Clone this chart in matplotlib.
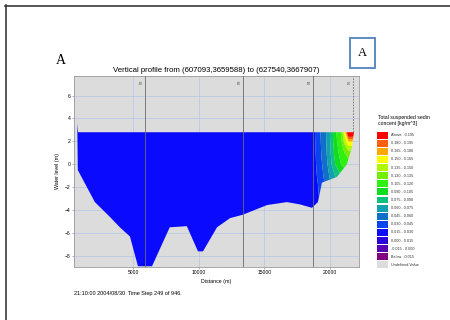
import matplotlib
matplotlib.use("Agg")
import matplotlib.pyplot as plt
from matplotlib.patches import Polygon, Rectangle
from matplotlib.lines import Line2D

plt.rcParams['font.family'] = ['Liberation Sans', 'DejaVu Sans']

# bed profile along the section (first point is the thin spike on the left bank)
bed_dist = [760, 800, 2100, 3250, 4000, 4770, 5380, 6450, 7800, 9100, 9950, 10330,
            11400, 12390, 13370, 15200, 16720, 17710, 18630, 19080, 19390, 19850,
            20530, 21290, 21670, 21830]
bed_level = [3.6, -0.5, -3.3, -4.6, -5.5, -6.3, -8.9, -8.9, -5.5, -5.4, -7.6, -7.6,
             -5.5, -4.7, -4.4, -3.56, -3.3, -3.5, -3.8, -3.3, -1.6, -1.4,
             -1.1, 0.0, 1.5, 2.8]
water_level = 2.8
surface_start = 820

# stations marked on the section
station_dist = [5920, 13370, 18700, 21750]
station_name = ['P2', 'P3', 'P4', 'P5']

# suspended sediment concentration (kg/m^3)
grid_dist = [0, 18800, 19200, 19600, 20000, 20400, 20800, 21100, 21400, 21700, 22500]
grid_level = [-9.5, -2, -1, 0, 1, 2, 3, 4]
tss = [
    [0.022, 0.022, 0.022, 0.022, 0.022, 0.022, 0.022, 0.022, 0.022, 0.022, 0.022],
    [0.022, 0.023, 0.032, 0.044, 0.056, 0.064, 0.070, 0.074, 0.076, 0.076, 0.076],
    [0.022, 0.024, 0.036, 0.048, 0.062, 0.076, 0.088, 0.094, 0.096, 0.096, 0.096],
    [0.022, 0.025, 0.039, 0.051, 0.068, 0.090, 0.104, 0.110, 0.112, 0.112, 0.112],
    [0.022, 0.026, 0.041, 0.053, 0.072, 0.096, 0.110, 0.120, 0.128, 0.126, 0.124],
    [0.022, 0.027, 0.042, 0.054, 0.074, 0.100, 0.114, 0.140, 0.165, 0.165, 0.155],
    [0.022, 0.028, 0.043, 0.055, 0.076, 0.102, 0.118, 0.160, 0.240, 0.240, 0.190],
    [0.022, 0.028, 0.043, 0.055, 0.076, 0.102, 0.118, 0.160, 0.240, 0.240, 0.190],
]

tss_levels = [-0.015, 0.0, 0.015, 0.030, 0.045, 0.060, 0.075, 0.090, 0.105,
              0.120, 0.135, 0.150, 0.165, 0.180, 0.195]
# below, intervals low->high, above
tss_colors = ['#800080', '#5a00b4', '#2a00dc', '#0a0aff', '#0a44ee', '#1070c8',
              '#10a0b0', '#10c080', '#10dc20', '#30f010', '#70f000', '#b0f800',
              '#ffff00', '#ffa800', '#ff6010', '#ff0000']
undefined_color = '#dcdcdc'

legend_labels = ['Above   0.195', '0.180 - 0.195', '0.165 - 0.180', '0.150 - 0.165',
                 '0.135 - 0.150', '0.120 - 0.135', '0.105 - 0.120', '0.090 - 0.105',
                 '0.075 - 0.090', '0.060 - 0.075', '0.045 - 0.060', '0.030 - 0.045',
                 '0.015 - 0.030', '0.000 - 0.015', '-0.015 - 0.000', 'Below  -0.015',
                 'Undefined Value']

W, H = 450, 320
fig = plt.figure(figsize=(W / 100, H / 100), dpi=100)
fig.patch.set_facecolor('white')

ax = fig.add_axes([74 / W, 1 - 266.7 / H, 285 / W, 190.7 / H])
ax.set_facecolor(undefined_color)
ax.set_xlim(510, 22210)
ax.set_ylim(-8.94, 7.71)
ax.set_xticks([5000, 10000, 15000, 20000])
ax.set_xticks(range(1000, 22001, 1000), minor=True)
ax.set_yticks([-8, -6, -4, -2, 0, 2, 4, 6])
ax.grid(color='#b4c6e4', lw=0.5)
ax.set_axisbelow(True)

cs = ax.contourf(grid_dist, grid_level, tss, levels=tss_levels, colors=tss_colors,
                 extend='both', zorder=2, antialiased=True)
outline = list(zip(bed_dist, bed_level)) + [(surface_start, water_level)]
section = Polygon(outline, closed=True, facecolor='none', edgecolor='none')
ax.add_patch(section)
cs.set_clip_path(section)

for d, name in zip(station_dist, station_name):
    if d == station_dist[-1]:
        ax.plot([d, d], [water_level, 7.71], color='#707070', lw=0.6,
                ls=(0, (2, 1.5)), zorder=3)
    else:
        ax.axvline(d, color='#6a6a6a', lw=0.6, zorder=3)
    ax.text(d - 120, 7.4, name, rotation=90, fontsize=2.6, color='#505050',
            ha='right', va='top', zorder=4)

ax.tick_params(labelsize=3.6, length=1.5, width=0.4, pad=1.2, color='#808080')
ax.tick_params(which='minor', length=1.0, width=0.3, color='#808080')
for s in ax.spines.values():
    s.set_color('#9a9a9a')
    s.set_linewidth(0.6)

fig.text(216.5 / W, 1 - 71 / H,
         'Vertical profile from (607093,3659588) to (627540,3667907)',
         fontsize=5.6, ha='center', va='center')
fig.text(216.5 / W, 1 - 282 / H, 'Distance (m)', fontsize=3.8, ha='center', va='center')
fig.text(57 / W, 1 - 171 / H, 'Water level (m)', fontsize=3.8, rotation=90,
         ha='center', va='center')
fig.text(74 / W, 1 - 294 / H, '21:10:00 2004/08/30  Time Step 249 of 946.',
         fontsize=4.0, ha='left', va='center')

# legend
lax = fig.add_axes([377 / W, 1 - 269 / H, 63 / W, 138 / H])
lax.set_xlim(0, 63)
lax.set_ylim(16.5, -0.5)
lax.axis('off')
legend_colors = tss_colors[::-1] + [undefined_color]
lax.barh(range(len(legend_labels)), [11] * len(legend_labels), left=0, height=0.85,
         color=legend_colors)
for i, lab in enumerate(legend_labels):
    lax.text(14, i, lab, fontsize=2.7, va='center', color='#303030')
fig.text(378 / W, 1 - 117 / H, 'Total suspended sedin', fontsize=3.7, va='center')
fig.text(378 / W, 1 - 124 / H, 'concent [kg/m^3]', fontsize=3.7, va='center')

# panel letters
fig.text(61 / W, 1 - 61 / H, 'A', fontsize=10, family=['Liberation Serif', 'DejaVu Serif'],
         ha='center', va='center')
fig.add_artist(Rectangle((350 / W, 1 - 68 / H), 25 / W, 30 / H, transform=fig.transFigure,
                         facecolor='white', edgecolor='#4f81bd', lw=1.3))
fig.text(362.5 / W, 1 - 53 / H, 'A', fontsize=9, family=['Liberation Serif', 'DejaVu Serif'],
         ha='center', va='center')

# page frame
fig.add_artist(Line2D([5.5 / W, 5.5 / W], [0, 1 - 5 / H], transform=fig.transFigure,
                      color='#3a3a3a', lw=1.2))
fig.add_artist(Line2D([5 / W, 1], [1 - 5.5 / H, 1 - 5.5 / H], transform=fig.transFigure,
                      color='#3a3a3a', lw=1.2))

fig.savefig('out.png', dpi=100)
